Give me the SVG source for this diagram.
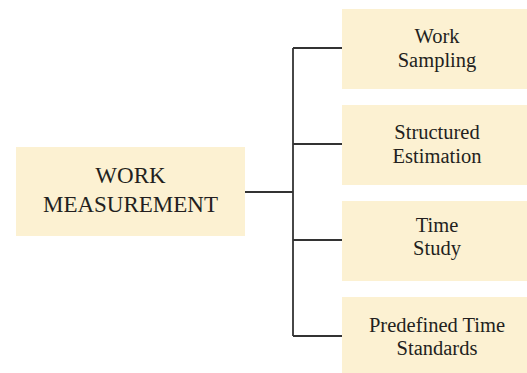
<svg xmlns="http://www.w3.org/2000/svg" width="527" height="373" viewBox="0 0 527 373">
  <style>
    .box { fill: #fcf1d2; }
    .lbl { font-family: 'Liberation Serif', 'Times New Roman', 'DejaVu Serif', serif; fill: #231f20; text-anchor: middle; }
    .main { font-size: 23px; }
    .sub { font-size: 20.5px; }
    .conn { stroke: #333333; stroke-width: 1.8; fill: none; }
  </style>
  <rect width="527" height="373" fill="#ffffff"/>

  <!-- tree connectors -->
  <g id="connectors">
    <path class="conn" d="M245 192 H293"/>
    <path class="conn" d="M293 48 V336"/>
    <path class="conn" d="M293 48 H342"/>
    <path class="conn" d="M293 144 H342"/>
    <path class="conn" d="M293 240 H342"/>
    <path class="conn" d="M293 336 H342"/>
  </g>

  <g id="work-measurement">
    <rect class="box" x="16" y="147" width="229" height="89"/>
    <text class="lbl main" font-family="Liberation Serif, serif" x="130.5" y="183">WORK</text>
    <text class="lbl main" font-family="Liberation Serif, serif" x="130.5" y="212">MEASUREMENT</text>
  </g>

  <g id="work-sampling">
    <rect class="box" x="342" y="9" width="190" height="80"/>
    <text class="lbl sub" x="437" y="43">Work</text>
    <text class="lbl sub" x="437" y="67">Sampling</text>
  </g>

  <g id="structured-estimation">
    <rect class="box" x="342" y="105" width="190" height="80"/>
    <text class="lbl sub" x="437" y="139">Structured</text>
    <text class="lbl sub" x="437" y="163">Estimation</text>
  </g>

  <g id="time-study">
    <rect class="box" x="342" y="201" width="190" height="80"/>
    <text class="lbl sub" x="437" y="232">Time</text>
    <text class="lbl sub" x="437" y="255">Study</text>
  </g>

  <g id="predefined-time-standards">
    <rect class="box" x="342" y="297" width="190" height="80"/>
    <text class="lbl sub" x="437" y="332">Predefined Time</text>
    <text class="lbl sub" x="437" y="355">Standards</text>
  </g>
</svg>
